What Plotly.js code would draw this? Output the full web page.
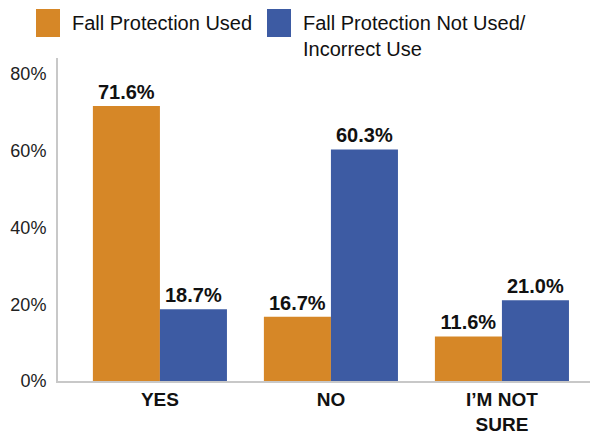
<!DOCTYPE html>
<html>
<head>
<meta charset="utf-8">
<script src="https://cdn.plot.ly/plotly-3.0.1.min.js"></script>
<style>html,body{margin:0;padding:0;background:#fff;}#chart{width:602px;height:435px;}</style>
</head>
<body>
<div id="chart"></div>
<script>
var categories = ["YES", "NO", "I’M NOT<br>SURE"];
var seriesNames = ["Fall Protection Used", "Fall Protection Not Used/<br>Incorrect Use"];
var usedValues = [71.6, 16.7, 11.6];
var notUsedValues = [18.7, 60.3, 21.0];
var yTickValues = [0, 20, 40, 60, 80];
var yTickLabels = ["0%", "20%", "40%", "60%", "80%"];
var colors = ["#D68727", "#3D5BA3"];

function fmt(v){ return v.toFixed(1) + "%"; }

var labelFont = {family:"Liberation Sans, Arial, sans-serif", size:20, color:"#111", weight:"bold"};

var traces = [
  {type:"bar", name:seriesNames[0], x:categories, y:usedValues, marker:{color:colors[0]},
   text:usedValues.map(fmt), textposition:"outside", cliponaxis:false,
   textfont:labelFont, hoverinfo:"none"},
  {type:"bar", name:seriesNames[1], x:categories, y:notUsedValues, marker:{color:colors[1]},
   text:notUsedValues.map(fmt), textposition:"outside", cliponaxis:false,
   textfont:labelFont, hoverinfo:"none"}
];

var W = 532, H = 323, L = 58, T = 58;
function px(x){ return (x - L)/W; }
function py(y){ return (T + H - y)/H; }

var layout = {
  width:602, height:435,
  margin:{l:L, r:602-L-W, t:T, b:435-T-H},
  paper_bgcolor:"#fff", plot_bgcolor:"#fff",
  showlegend:false,
  barmode:"group", bargap:0.216, bargroupgap:0,
  font:{family:"Liberation Sans, Arial, sans-serif", color:"#111"},
  xaxis:{type:"category", range:[-0.596, 2.515], showline:true, linecolor:"#c8c8c8", linewidth:2,
    ticks:"", tickfont:{size:19, color:"#111", family:"Liberation Sans, Arial, sans-serif", weight:"bold"},
    showgrid:false, zeroline:false, fixedrange:true},
  yaxis:{range:[0, 84.1], tickmode:"array", tickvals:yTickValues, ticktext:yTickLabels, showline:true, linecolor:"#c8c8c8", linewidth:2,
    ticks:"", showgrid:false, zeroline:false, tickfont:{size:18, color:"#222"}, ticklabelstandoff:6, fixedrange:true},
  shapes:[
    {type:"rect", xref:"paper", yref:"paper", x0:px(36), x1:px(60), y0:py(37), y1:py(9), fillcolor:colors[0], line:{width:0}},
    {type:"rect", xref:"paper", yref:"paper", x0:px(267), x1:px(291), y0:py(37), y1:py(9), fillcolor:colors[1], line:{width:0}}
  ],
  annotations:[
    {xref:"paper", yref:"paper", x:px(70), y:py(23), xanchor:"left", yanchor:"middle", showarrow:false,
     text:seriesNames[0], align:"left", font:{size:20, color:"#111"}},
    {xref:"paper", yref:"paper", x:px(301), y:py(36.5), xanchor:"left", yanchor:"middle", showarrow:false,
     text:seriesNames[1], align:"left", font:{size:20, color:"#111"}}
  ]
};

Plotly.newPlot("chart", traces, layout, {displayModeBar:false, staticPlot:true});
</script>
</body>
</html>
